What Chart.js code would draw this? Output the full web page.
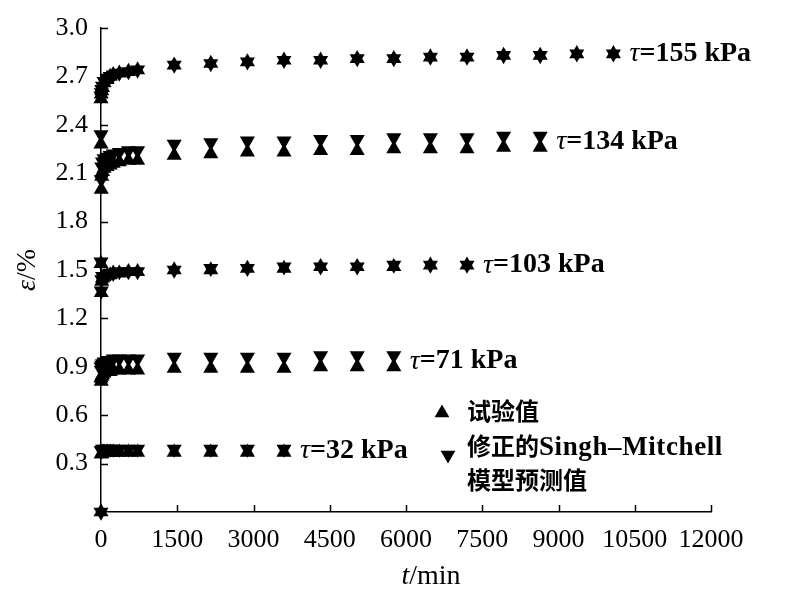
<!DOCTYPE html>
<html>
<head>
<meta charset="utf-8">
<script src="https://cdn.jsdelivr.net/npm/chart.js@4.4.1/dist/chart.umd.min.js"></script>
<style>
    html, body { margin: 0; padding: 0; background: #fff; }
    canvas { display: block; }
</style>
</head>
<body>
<canvas id="creepChart" width="788" height="610"></canvas>
<script>
    // time points (min), shared by every load level
    const minutes = [0, 5, 15, 30, 60, 120, 180, 240, 360, 540, 720,
        1440, 2160, 2880, 3600, 4320, 5040, 5760, 6480, 7200, 7920, 8640, 9360, 10080];

    // strain (%) - test values (▲) and model values (▼)
    const exp155 = [2.56, 2.59, 2.61, 2.63, 2.66, 2.68, 2.70, 2.71, 2.72, 2.73, 2.74, 2.77, 2.78, 2.79, 2.80, 2.80, 2.81, 2.81, 2.82, 2.82, 2.83, 2.83, 2.84, 2.84];
    const model155 = [2.58, 2.60, 2.62, 2.64, 2.67, 2.69, 2.70, 2.71, 2.72, 2.73, 2.74, 2.77, 2.78, 2.79, 2.80, 2.80, 2.81, 2.81, 2.82, 2.82, 2.83, 2.83, 2.84, 2.84];
    const exp134 = [2.28, 2.00, 2.08, 2.11, 2.13, 2.14, 2.15, 2.16, 2.17, 2.18, 2.18, 2.21, 2.22, 2.23, 2.23, 2.24, 2.24, 2.25, 2.25, 2.25, 2.26, 2.26];
    const model134 = [2.34, 2.06, 2.14, 2.17, 2.19, 2.20, 2.21, 2.22, 2.23, 2.24, 2.24, 2.28, 2.29, 2.30, 2.30, 2.31, 2.31, 2.32, 2.32, 2.32, 2.33, 2.33];
    const exp103 = [1.54, 1.36, 1.43, 1.45, 1.46, 1.47, 1.47, 1.48, 1.48, 1.49, 1.49, 1.50, 1.50, 1.51, 1.51, 1.52, 1.52, 1.52, 1.53, 1.53];
    const model103 = [1.55, 1.37, 1.44, 1.46, 1.46, 1.47, 1.48, 1.48, 1.49, 1.49, 1.49, 1.50, 1.51, 1.51, 1.52, 1.52, 1.52, 1.53, 1.53, 1.53];
    const exp71 = [0.83, 0.81, 0.84, 0.85, 0.86, 0.87, 0.87, 0.88, 0.88, 0.88, 0.88, 0.89, 0.89, 0.89, 0.89, 0.90, 0.90, 0.90];
    const model71 = [0.90, 0.88, 0.91, 0.92, 0.93, 0.94, 0.94, 0.95, 0.95, 0.95, 0.95, 0.96, 0.96, 0.96, 0.96, 0.97, 0.97, 0.97];
    const exp32 = [0, 0.36, 0.36, 0.37, 0.37, 0.37, 0.37, 0.37, 0.37, 0.37, 0.37, 0.37, 0.37, 0.37, 0.37];
    const model32 = [0, 0.38, 0.38, 0.39, 0.39, 0.39, 0.39, 0.39, 0.39, 0.39, 0.39, 0.39, 0.39, 0.39, 0.39];

    const loadLabels = ['155 kPa', '134 kPa', '103 kPa', '71 kPa', '32 kPa'];
    const legendLabels = ['试验值', '修正的', 'Singh–Mitchell', '模型预测值'];
    const xTitle = ['t', '/min'];
    const yTitle = ['ε', '/%'];

    const groups = [
        [exp155, model155],
        [exp134, model134],
        [exp103, model103],
        [exp71, model71],
        [exp32, model32]
    ];

    const SERIF = '"Liberation Serif", "Times New Roman", serif';
    const CJK = '"Noto Sans CJK SC", sans-serif';

    const toPoints = vals => vals.map((v, i) => ({ x: minutes[i], y: v }));

    const datasets = [];
    groups.forEach((g, i) => {
        datasets.push({
            label: loadLabels[i] + ' exp',
            data: toPoints(g[0]),
            pointStyle: 'triangle',
            pointRotation: 0
        });
        datasets.push({
            label: loadLabels[i] + ' model',
            data: toPoints(g[1]),
            pointStyle: 'triangle',
            pointRotation: 180
        });
    });
    datasets.forEach(d => {
        d.showLine = false;
        d.pointRadius = 8.7;
        d.pointBackgroundColor = '#000';
        d.pointBorderColor = '#000';
        d.pointBorderWidth = 0;
        d.clip = false;
    });

    const drawTriangle = (ctx, cx, cy, r, down) => {
        const s = down ? -1 : 1;
        ctx.beginPath();
        ctx.moveTo(cx, cy - s * r);
        ctx.lineTo(cx + r * 0.866, cy + s * r / 2);
        ctx.lineTo(cx - r * 0.866, cy + s * r / 2);
        ctx.closePath();
        ctx.fill();
    };

    const decorations = {
        id: 'decorations',
        afterDraw(chart) {
            const { ctx, chartArea, scales: { x, y } } = chart;
            ctx.save();
            ctx.fillStyle = '#000';
            ctx.strokeStyle = '#000';
            ctx.lineWidth = 1.5;

            // inward tick marks
            ctx.beginPath();
            x.ticks.forEach(t => {
                if (t.value === 0) return;
                const px = Math.round(x.getPixelForValue(t.value)) + 0.5;
                ctx.moveTo(px, chartArea.bottom);
                ctx.lineTo(px, chartArea.bottom - 7);
            });
            y.ticks.forEach(t => {
                if (t.value === 0) return;
                const py = Math.round(y.getPixelForValue(t.value)) + 0.5;
                ctx.moveTo(chartArea.left, py);
                ctx.lineTo(chartArea.left + 7, py);
            });
            ctx.stroke();

            // load level labels next to the last point of each group
            ctx.textBaseline = 'middle';
            ctx.textAlign = 'left';
            groups.forEach((g, i) => {
                const last = g[0].length - 1;
                const px = x.getPixelForValue(minutes[last]) + 16;
                const py = y.getPixelForValue((g[0][last] + g[1][last]) / 2);
                ctx.font = 'italic 28px ' + SERIF;
                ctx.fillText('τ', px, py);
                const w = ctx.measureText('τ').width;
                ctx.font = 'bold 28px ' + SERIF;
                ctx.fillText('=' + loadLabels[i], px + w, py);
            });

            // legend
            drawTriangle(ctx, 442, 413, 8.5, false);
            drawTriangle(ctx, 448, 455, 8.5, true);
            ctx.font = 'bold 24px ' + CJK;
            ctx.fillText(legendLabels[0], 467, 411);
            ctx.fillText(legendLabels[1], 467, 446);
            const cw = ctx.measureText(legendLabels[1]).width;
            ctx.font = 'bold 27px ' + SERIF;
            ctx.letterSpacing = '0.6px';
            ctx.fillText(legendLabels[2], 467 + cw, 448);
            ctx.letterSpacing = '0px';
            ctx.font = 'bold 24px ' + CJK;
            ctx.fillText(legendLabels[3], 467, 480);

            // x axis title
            ctx.font = 'italic 28px ' + SERIF;
            const tw = ctx.measureText(xTitle[0]).width;
            ctx.font = '28px ' + SERIF;
            const mw = ctx.measureText(xTitle[1]).width;
            let sx = 431 - (tw + mw) / 2;
            ctx.font = 'italic 28px ' + SERIF;
            ctx.fillText(xTitle[0], sx, 577);
            ctx.font = '28px ' + SERIF;
            ctx.fillText(xTitle[1], sx + tw, 577);

            // y axis title (rotated)
            ctx.translate(28, 270);
            ctx.rotate(-Math.PI / 2);
            ctx.font = 'italic 28px ' + SERIF;
            const ew = ctx.measureText(yTitle[0]).width;
            ctx.font = '28px ' + SERIF;
            const pw = ctx.measureText(yTitle[1]).width;
            sx = -(ew + pw) / 2;
            ctx.font = 'italic 28px ' + SERIF;
            ctx.fillText(yTitle[0], sx, 0);
            ctx.font = '28px ' + SERIF;
            ctx.fillText(yTitle[1], sx + ew, 0);

            ctx.restore();
        }
    };

    const noPadding = scale => {
        scale.paddingLeft = 0;
        scale.paddingRight = 0;
        scale.paddingTop = 0;
        scale.paddingBottom = 0;
    };

    Chart.defaults.font.family = SERIF;
    Chart.defaults.font.size = 26;
    Chart.defaults.color = '#000';

    new Chart(document.getElementById('creepChart'), {
        type: 'scatter',
        data: { datasets },
        plugins: [decorations],
        options: {
            responsive: false,
            animation: false,
            layout: { padding: { left: 0, top: 28, right: 77, bottom: 0 } },
            plugins: {
                legend: { display: false },
                tooltip: { enabled: false }
            },
            scales: {
                x: {
                    type: 'linear',
                    min: 0,
                    max: 12000,
                    grid: { display: false },
                    border: { display: true, color: '#000', width: 1.5 },
                    ticks: {
                        stepSize: 1500,
                        padding: 5,
                        maxRotation: 0,
                        autoSkip: false,
                        callback: v => String(v)
                    },
                    afterFit: scale => {
                        scale.height = 98;
                        noPadding(scale);
                    }
                },
                y: {
                    type: 'linear',
                    min: 0,
                    max: 3.0,
                    grid: { display: false },
                    border: { display: true, color: '#000', width: 1.5 },
                    ticks: {
                        stepSize: 0.3,
                        padding: 5,
                        autoSkip: false,
                        callback: v => (Math.abs(v) < 1e-9 ? '' : v.toFixed(1))
                    },
                    afterFit: scale => {
                        scale.width = 101;
                        noPadding(scale);
                    }
                }
            }
        }
    });
</script>
</body>
</html>
